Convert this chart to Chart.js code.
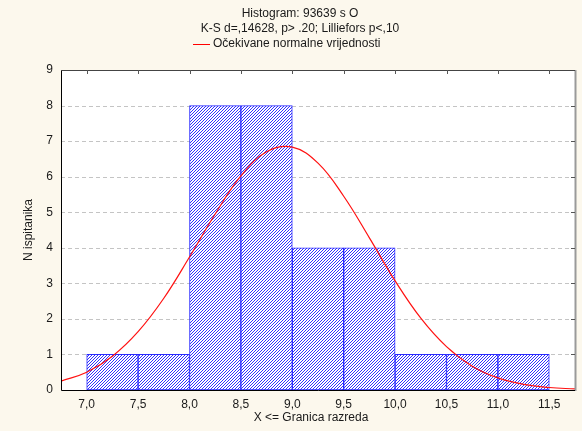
<!DOCTYPE html>
<html>
<head>
<meta charset="utf-8">
<script src="https://cdn.jsdelivr.net/npm/chart.js@4"></script>
<style>
  html, body { margin: 0; padding: 0; background: #fcf8ed; }
  #wrap { width: 582px; height: 431px; position: relative; }
</style>
</head>
<body>
<div id="wrap"><canvas id="hist" width="582" height="431"></canvas></div>
<script>
// bin centres and counts (bins 0.5 wide)
const binCenters = [7.25, 7.75, 8.25, 8.75, 9.25, 9.75, 10.25, 10.75, 11.25];
const binCounts  = [1, 1, 8, 8, 4, 4, 1, 1, 1];

// expected normal curve
const curveX = [6.75, 7.0, 7.25, 7.5, 7.75, 8.0, 8.25, 8.5, 8.75, 9.0, 9.25, 9.5, 9.75, 10.0, 10.25, 10.5, 10.75, 11.0, 11.25, 11.5, 11.75];
const curveY = [0.25, 0.5, 0.95, 1.64, 2.58, 3.74, 4.95, 6.02, 6.70, 6.83, 6.38, 5.45, 4.28, 3.07, 2.02, 1.22, 0.67, 0.34, 0.16, 0.07, 0.03];

const xTicks = [7.0, 7.5, 8.0, 8.5, 9.0, 9.5, 10.0, 10.5, 11.0, 11.5];
const yTicks = [0, 1, 2, 3, 4, 5, 6, 7, 8, 9];

const titleLines = ["Histogram: 93639 s O", "K-S d=,14628, p> .20; Lilliefors p<,10"];
const legendText = "Očekivane normalne vrijednosti";
const xTitle = "X <= Granica razreda";
const yTitle = "N ispitanika";

const FONT = "'Liberation Sans', Arial, sans-serif";

// diagonal hatch fill, 1px lines every 3px
function hatch() {
  const c = document.createElement("canvas");
  c.width = 3; c.height = 3;
  const g = c.getContext("2d");
  g.fillStyle = "#ffffff";
  g.fillRect(0, 0, 3, 3);
  g.fillStyle = "#3030ff";
  for (let i = 0; i < 3; i++) g.fillRect(i, 2 - i, 1, 1);
  return g.createPattern(c, "repeat");
}

const frame = {
  id: "frame",
  beforeDatasetsDraw(chart) {
    const { ctx, chartArea: a, scales } = chart;
    ctx.save();
    ctx.fillStyle = "#ffffff";
    ctx.fillRect(a.left, a.top, a.right - a.left, a.bottom - a.top);
    // dashed grid
    ctx.strokeStyle = "#c4c4c4";
    ctx.lineWidth = 1;
    ctx.setLineDash([4, 3]);
    ctx.beginPath();
    yTicks.slice(1, -1).forEach((v) => {
      const py = Math.round(scales.y.getPixelForValue(v)) + 0.5;
      ctx.moveTo(a.left, py);
      ctx.lineTo(a.right, py);
    });
    ctx.stroke();
    ctx.restore();
  },
  afterDraw(chart) {
    const { ctx, chartArea: a, scales } = chart;
    ctx.save();
    // border
    ctx.strokeStyle = "#9a9a9a";
    ctx.lineWidth = 2;
    ctx.beginPath();
    ctx.moveTo(a.right + 0.5, a.top);
    ctx.lineTo(a.right + 0.5, a.bottom + 1);
    ctx.stroke();
    ctx.strokeStyle = "#000000";
    ctx.lineWidth = 1;
    ctx.beginPath();
    ctx.moveTo(a.left + 0.5, a.top);
    ctx.lineTo(a.left + 0.5, a.bottom + 0.5);
    ctx.lineTo(a.right, a.bottom + 0.5);
    ctx.stroke();
    ctx.strokeStyle = "#444444";
    ctx.beginPath();
    ctx.moveTo(a.left, a.top + 0.5);
    ctx.lineTo(a.right, a.top + 0.5);
    ctx.stroke();
    // inner ticks on top and right
    ctx.strokeStyle = "#555555";
    ctx.beginPath();
    xTicks.forEach((v) => {
      const px = Math.round(scales.x.getPixelForValue(v)) + 0.5;
      ctx.moveTo(px, a.top);
      ctx.lineTo(px, a.top + 4);
    });
    yTicks.slice(1, -1).forEach((v) => {
      const py = Math.round(scales.y.getPixelForValue(v)) + 0.5;
      ctx.moveTo(a.right - 4, py);
      ctx.lineTo(a.right, py);
    });
    ctx.stroke();

    // titles
    ctx.fillStyle = "#1a1a1a";
    ctx.font = "12px " + FONT;
    ctx.textAlign = "center";
    ctx.textBaseline = "middle";
    ctx.fillText(titleLines[0], 300, 14);
    ctx.fillText(titleLines[1], 300, 29);
    ctx.textAlign = "left";
    ctx.fillText(legendText, 213, 44);
    ctx.strokeStyle = "#ff0000";
    ctx.beginPath();
    ctx.moveTo(193, 44.5);
    ctx.lineTo(210, 44.5);
    ctx.stroke();

    // axis titles
    ctx.textAlign = "center";
    ctx.fillText(xTitle, 311, 418);
    ctx.translate(29, 230);
    ctx.rotate(-Math.PI / 2);
    ctx.fillText(yTitle, 0, 0);
    ctx.restore();
  },
};

new Chart(document.getElementById("hist"), {
  data: {
    datasets: [
      {
        type: "bar",
        data: binCenters.map((x, i) => ({ x, y: binCounts[i] })),
        backgroundColor: hatch(),
        borderColor: "#2a2aff",
        borderWidth: 1,
        borderSkipped: false,
        barPercentage: 1,
        categoryPercentage: 1,
        order: 2,
      },
      {
        type: "line",
        data: curveX.map((x, i) => ({ x, y: curveY[i] })),
        borderColor: "#ff1010",
        borderWidth: 1.2,
        pointRadius: 0,
        tension: 0.4,
        fill: false,
        order: 1,
      },
    ],
  },
  options: {
    responsive: false,
    animation: false,
    events: [],
    layout: { padding: { top: 70, right: 7, left: 0, bottom: 0 } },
    plugins: { legend: { display: false }, tooltip: { enabled: false } },
    scales: {
      x: {
        type: "linear",
        min: 6.75,
        max: 11.75,
        offset: false,
        afterBuildTicks: (s) => { s.ticks = xTicks.map((v) => ({ value: v })); },
        afterFit: (s) => { s.height = 41; },
        grid: { display: false, drawTicks: false },
        border: { display: false },
        ticks: {
          padding: 7,
          color: "#1a1a1a",
          font: { family: FONT, size: 12 },
          maxRotation: 0,
          autoSkip: false,
          callback: (v) => v.toFixed(1).replace(".", ","),
        },
      },
      y: {
        min: 0,
        max: 9,
        afterBuildTicks: (s) => { s.ticks = yTicks.map((v) => ({ value: v })); },
        afterFit: (s) => { s.width = 61; },
        grid: { display: false, drawTicks: false },
        border: { display: false },
        ticks: {
          padding: 8,
          color: "#1a1a1a",
          font: { family: FONT, size: 12 },
        },
      },
    },
  },
  plugins: [frame],
});
</script>
</body>
</html>
